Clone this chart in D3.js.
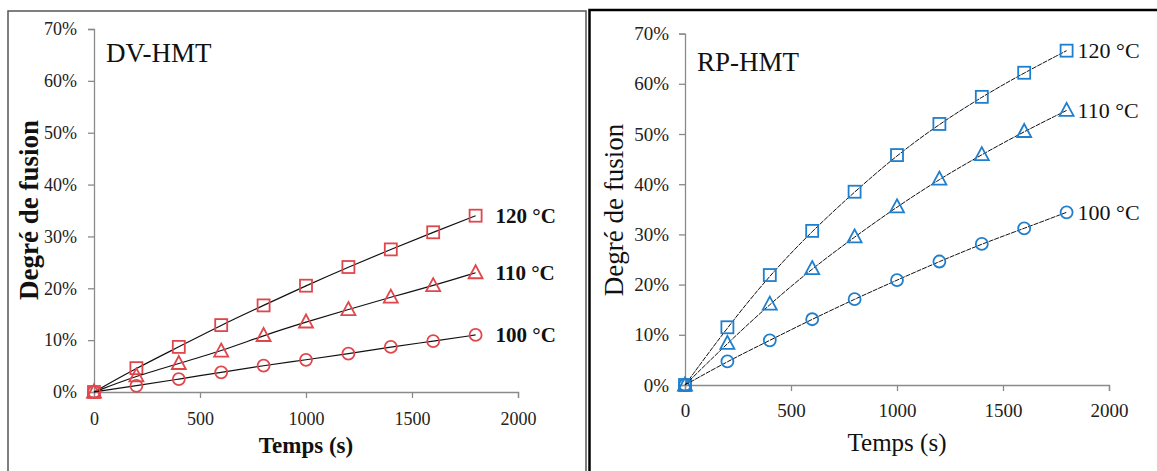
<!DOCTYPE html>
<html><head><meta charset="utf-8">
<script src="https://cdn.jsdelivr.net/npm/d3@7"></script>
<style>body{margin:0;background:#fff}svg{display:block}text{font-family:"Liberation Serif","Times New Roman",serif}</style>
</head><body><svg id="c" width="1157" height="471"></svg>
<script>
const times = [0, 200, 400, 600, 800, 1000, 1200, 1400, 1600, 1800];
const xTicks = [0, 500, 1000, 1500, 2000];
const yTicks = [0, 0.1, 0.2, 0.3, 0.4, 0.5, 0.6, 0.7];
const seriesLabels = ["120 °C", "110 °C", "100 °C"];
const seriesShapes = ["square", "triangle", "circle"];
// DV-HMT
const dv120 = [0, 0.046, 0.087, 0.129, 0.167, 0.205, 0.241, 0.275, 0.308, 0.340];
const dv110 = [0, 0.031, 0.055, 0.079, 0.109, 0.135, 0.159, 0.183, 0.205, 0.230];
const dv100 = [0, 0.012, 0.025, 0.038, 0.051, 0.062, 0.074, 0.087, 0.098, 0.110];
// RP-HMT
const rp120 = [0, 0.115, 0.219, 0.307, 0.385, 0.458, 0.520, 0.574, 0.622, 0.666];
const rp110 = [0, 0.083, 0.161, 0.232, 0.295, 0.355, 0.410, 0.459, 0.505, 0.547];
const rp100 = [0, 0.047, 0.089, 0.131, 0.171, 0.209, 0.246, 0.281, 0.312, 0.344];

const svg = d3.select("#c");

// panel frames
svg.append("rect").attr("x", 8).attr("y", 11).attr("width", 578).attr("height", 480)
  .attr("fill", "none").attr("stroke", "#555").attr("stroke-width", 1.5);
svg.append("rect").attr("x", 589.5).attr("y", 10).attr("width", 600).attr("height", 480)
  .attr("fill", "none").attr("stroke", "#000").attr("stroke-width", 2.5);

function panel(cfg) {
  const x = d3.scaleLinear().domain([0, 2000]).range([cfg.x0, cfg.x0 + 424]);
  const y = d3.scaleLinear().domain([0, 0.7]).range([cfg.y0, cfg.y70]);
  const g = svg.append("g");
  const fw = cfg.bold ? "bold" : "normal";

  const ya = g.append("g").attr("transform", `translate(${cfg.x0},0)`)
    .call(d3.axisLeft(y).tickValues(yTicks).tickFormat(d3.format(".0%")).tickSize(6).tickPadding(cfg.yPad));
  const xa = g.append("g").attr("transform", `translate(0,${cfg.y0})`)
    .call(d3.axisBottom(x).tickValues(xTicks).tickFormat(d3.format("d")).tickSize(6).tickPadding(cfg.xPad));
  [ya, xa].forEach(a => {
    a.attr("font-family", null).attr("font-size", null);
    a.select(".domain").attr("stroke", "#8a8a8a").attr("stroke-width", 1.3);
    a.selectAll(".tick line").attr("stroke", "#8a8a8a").attr("stroke-width", 1.3);
    a.selectAll(".tick text")
      .style("font-family", "'Liberation Serif', serif")
      .style("font-size", cfg.tickSize + "px")
      .style("fill", "#222");
  });

  g.append("text").attr("x", cfg.titleX).attr("y", cfg.titleY).style("font-size", "27px").style("fill", "#111").text(cfg.title);

  g.append("text").attr("x", cfg.x0 + 212).attr("y", cfg.xTitleY).attr("text-anchor", "middle")
    .style("font-size", cfg.xTitleSize + "px").style("font-weight", fw).style("fill", "#111").text("Temps (s)");
  g.append("text").attr("transform", `translate(${cfg.yTitleX},210) rotate(-90)`).attr("text-anchor", "middle")
    .style("font-size", "27px").style("font-weight", fw).style("fill", "#111").text("Degré de fusion");

  const line = d3.line().x((d, i) => x(times[i])).y(d => y(d)).curve(d3.curveBasis);
  cfg.series.forEach((vals, si) => {
    g.append("path").attr("d", line(vals)).attr("fill", "none").attr("stroke", "#111").attr("stroke-width", cfg.lineW)
      .attr("stroke-dasharray", cfg.dash);
    const sym = seriesShapes[si];
    vals.forEach((v, i) => {
      const cx = x(times[i]), cy = y(v);
      if (sym === "square") {
        g.append("rect").attr("x", cx - 6).attr("y", cy - 6).attr("width", 12).attr("height", 12)
          .attr("fill", "none").attr("stroke", cfg.color).attr("stroke-width", 1.8);
      } else if (sym === "triangle") {
        g.append("path").attr("d", `M${cx},${cy - 7.5}L${cx + 7},${cy + 5.5}L${cx - 7},${cy + 5.5}Z`)
          .attr("fill", "none").attr("stroke", cfg.color).attr("stroke-width", 1.8);
      } else {
        g.append("circle").attr("cx", cx).attr("cy", cy).attr("r", 6)
          .attr("fill", "none").attr("stroke", cfg.color).attr("stroke-width", 1.8);
      }
    });
    const last = vals[vals.length - 1];
    g.append("text").attr("x", x(1800) + cfg.labelDx).attr("y", y(last)).attr("dy", "0.35em")
      .style("font-size", cfg.labelSize + "px").style("font-weight", fw).style("fill", "#111").text(seriesLabels[si]);
  });
}

panel({x0: 94, y0: 392, y70: 29, title: "DV-HMT", titleX: 106, titleY: 62, xTitleY: 453, yTitleX: 38,
  bold: true, color: "#e0474c", series: [dv120, dv110, dv100], labelDx: 20, dash: null, lineW: 1.2,
  tickSize: 18, xTitleSize: 23, labelSize: 21, yPad: 11, xPad: 14});
panel({x0: 685, y0: 385, y70: 33.6, title: "RP-HMT", titleX: 697, titleY: 71, xTitleY: 451, yTitleX: 623,
  bold: false, color: "#1f7fcc", series: [rp120, rp110, rp100], labelDx: 11, dash: "5,1", lineW: 1,
  tickSize: 19, xTitleSize: 25, labelSize: 22, yPad: 10, xPad: 13});
</script></body></html>
